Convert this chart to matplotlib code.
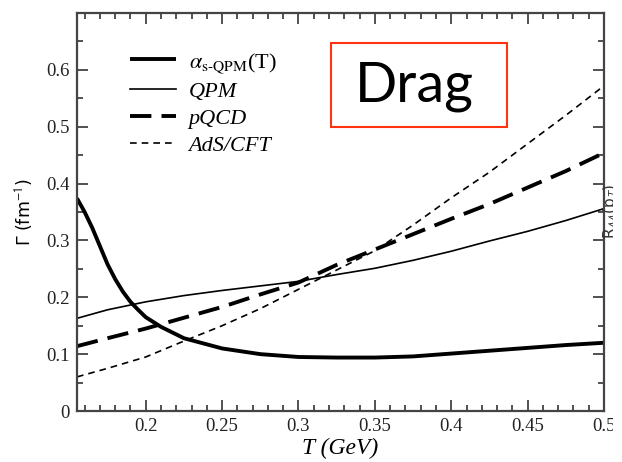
import matplotlib
matplotlib.use("Agg")
import matplotlib.pyplot as plt
from matplotlib.patches import Rectangle
from matplotlib.ticker import MultipleLocator

plt.rcParams["mathtext.fontset"] = "stix"

# ---- data ----
T_alpha = [0.155, 0.16, 0.165, 0.17, 0.175, 0.18, 0.185, 0.19, 0.195, 0.2,
           0.21, 0.225, 0.25, 0.275, 0.3, 0.325, 0.35, 0.375, 0.4, 0.425,
           0.45, 0.475, 0.5]
gamma_alpha = [0.374, 0.35, 0.322, 0.29, 0.258, 0.232, 0.21, 0.192, 0.178, 0.165,
               0.148, 0.128, 0.11, 0.10, 0.095, 0.094, 0.094, 0.096, 0.101, 0.106,
               0.111, 0.116, 0.12]

T_grid = [0.155, 0.175, 0.2, 0.225, 0.25, 0.275, 0.3, 0.325, 0.35, 0.375,
          0.4, 0.425, 0.45, 0.475, 0.5]
gamma_qpm = [0.163, 0.178, 0.192, 0.203, 0.212, 0.220, 0.228, 0.240, 0.251, 0.265,
             0.281, 0.299, 0.316, 0.335, 0.356]
gamma_pqcd = [0.114, 0.128, 0.145, 0.164, 0.183, 0.205, 0.226, 0.257, 0.284, 0.311,
              0.338, 0.364, 0.393, 0.422, 0.454]
gamma_ads = [0.060, 0.075, 0.095, 0.123, 0.150, 0.180, 0.214, 0.248, 0.282, 0.327,
             0.375, 0.420, 0.470, 0.520, 0.572]

x_ticks = [0.2, 0.25, 0.3, 0.35, 0.4, 0.45, 0.5]
x_tick_labels = ["0.2", "0.25", "0.3", "0.35", "0.4", "0.45", "0.5"]
y_ticks = [0, 0.1, 0.2, 0.3, 0.4, 0.5, 0.6]
y_tick_labels = ["0", "0.1", "0.2", "0.3", "0.4", "0.5", "0.6"]

W, H = 622, 462
fig = plt.figure(figsize=(W / 100, H / 100), dpi=100)
ax = fig.add_axes([77 / W, 1 - 411 / H, (604 - 77) / W, (411 - 13) / H])

serif = "Liberation Serif"

ax.plot(T_alpha, gamma_alpha, color="black", lw=2.8, solid_capstyle="butt",
        label=r"$\alpha_{\mathrm{s\text{-}QPM}}$(T)")
ax.plot(T_grid, gamma_qpm, color="black", lw=1.2, label="QPM")
ax.plot(T_grid, gamma_pqcd, color="black", lw=2.8, dashes=(5.5, 2.6), label="pQCD")
ax.plot(T_grid, gamma_ads, color="black", lw=1.2, dashes=(4, 3), label="AdS/CFT")

ax.set_xlim(0.155, 0.5)
ax.set_ylim(0, 0.7)
ax.set_xticks(x_ticks)
ax.set_xticklabels(x_tick_labels, family=serif, fontsize=13.5)
ax.set_yticks(y_ticks)
ax.set_yticklabels(y_tick_labels, family=serif, fontsize=13.5)
ax.xaxis.set_minor_locator(MultipleLocator(0.01))
ax.yaxis.set_minor_locator(MultipleLocator(0.05))
ax.tick_params(which="both", direction="in", top=True, right=True, color="#333333",
               width=1.2)
ax.tick_params(which="major", length=8, pad=5, labelcolor="#222222")
ax.tick_params(which="minor", length=4)
for s in ax.spines.values():
    s.set_linewidth(1.6)
    s.set_color("#444444")

ax.set_xlabel("T (GeV)", family=serif, style="italic", fontsize=17, labelpad=2)
ax.set_ylabel(r"Γ (fm$^{\mathsf{-1}}$)", family="DejaVu Sans", fontsize=12.5, labelpad=8)

# legend
leg = ax.legend(loc="upper left", bbox_to_anchor=(0.10, 0.905), frameon=False,
                borderpad=0, borderaxespad=0,
                handlelength=2.1, handletextpad=0.55, labelspacing=0.3,
                prop={"family": serif, "style": "italic", "size": 16})
leg.get_texts()[0].set_fontstyle("normal")

# Drag box
fig.patches.append(Rectangle((331 / W, 1 - 127 / H), (507 - 331) / W, (127 - 43) / H,
                             transform=fig.transFigure, fill=False,
                             edgecolor="#ff3311", lw=1.5))
fig.text(414 / W, 1 - 86 / H, "Drag", family="Lato", fontweight="normal", fontsize=40,
         ha="center", va="center", color="black")

# right-hand axis label from neighbouring panel (cut off)
fig.text(611 / W, 1 - 211 / H, r"R$_{\mathsf{AA}}$(p$_{\mathsf{T}}$)", rotation=90,
         family="DejaVu Sans", fontsize=11, ha="center", va="center", color="#333333")

# white strip: the original image is cropped at the right
fig.patches.append(Rectangle((613 / W, 0), 1 - 613 / W, 1, transform=fig.transFigure,
                             facecolor="white", edgecolor="none", zorder=20))

fig.savefig("out.png", dpi=100)
